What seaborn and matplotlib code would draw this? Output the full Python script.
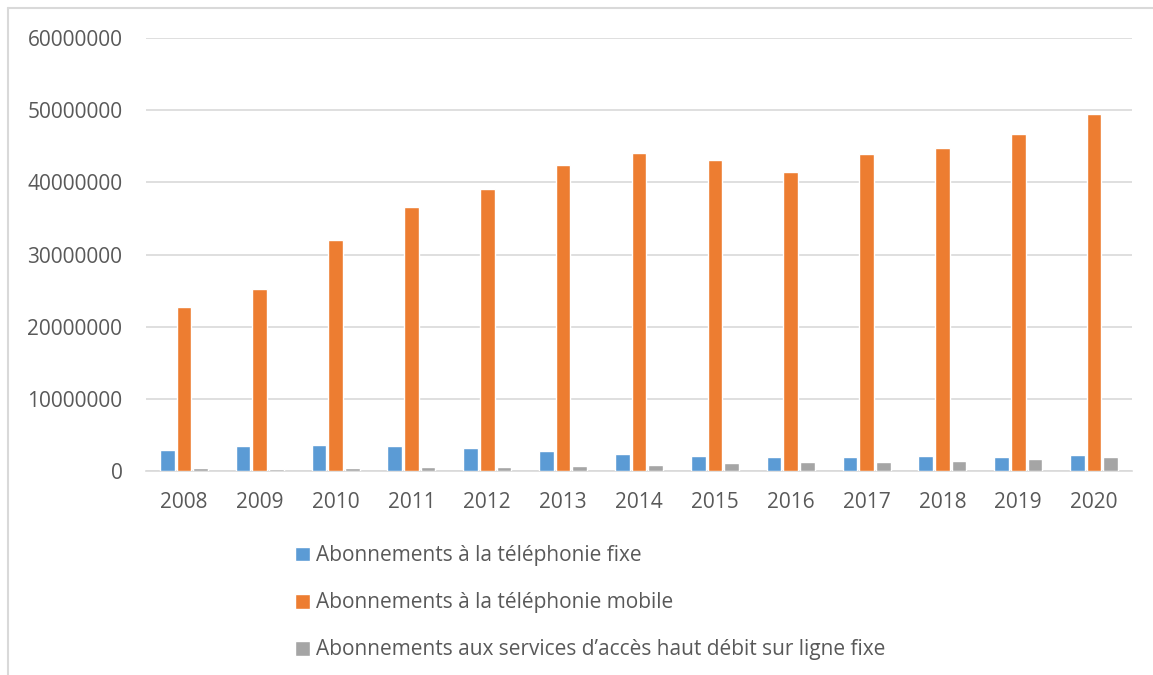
import matplotlib
matplotlib.use("Agg")
import matplotlib.pyplot as plt
from matplotlib.lines import Line2D
import pandas as pd
import seaborn as sns

years = [2008, 2009, 2010, 2011, 2012, 2013, 2014, 2015, 2016, 2017, 2018, 2019, 2020]
fixe = [2870000, 3420000, 3650000, 3460000, 3140000, 2770000, 2410000,
        2130000, 1940000, 1940000, 2090000, 1960000, 2280000]
mobile = [22700000, 25200000, 32000000, 36600000, 39100000, 42400000, 44000000,
          43100000, 41400000, 43900000, 44700000, 46700000, 49400000]
haut_debit = [370000, 330000, 370000, 510000, 610000, 750000, 890000,
              1070000, 1200000, 1300000, 1440000, 1660000, 1990000]

series_names = [
    "Abonnements à la téléphonie fixe",
    "Abonnements à la téléphonie mobile",
    "Abonnements aux services d\u2019accès haut débit sur ligne fixe",
]
colors = ["#5b9bd5", "#ed7d31", "#a5a5a5"]

df = pd.DataFrame({
    "year": [str(y) for y in years] * 3,
    "value": fixe + mobile + haut_debit,
    "series": [series_names[0]] * len(years) + [series_names[1]] * len(years)
              + [series_names[2]] * len(years),
})

sns.set_style("white")
plt.rcParams["font.family"] = ["Open Sans", "DejaVu Sans"]
text_col = "#595959"

fig = plt.figure(figsize=(11.53, 6.75), dpi=100)
ax = fig.add_axes([146 / 1153, 1 - 471 / 675, (1132 - 146) / 1153, (471 - 38) / 675])

sns.barplot(data=df, x="year", y="value", hue="series", palette=colors,
            width=0.66, gap=0.12, saturation=1, ax=ax, zorder=3)

ax.set_ylim(0, 60000000)
ax.set_xlim(-0.5, len(years) - 0.5)
ax.set_yticks(range(0, 60000001, 10000000))
ax.set_yticklabels([str(v) for v in range(0, 60000001, 10000000)])
ax.yaxis.grid(True, color="#d9d9d9", linewidth=1.2)
ax.set_axisbelow(True)
for s in ["top", "right", "left"]:
    ax.spines[s].set_visible(False)
ax.spines["bottom"].set_color("#d9d9d9")
ax.spines["bottom"].set_linewidth(1.2)
ax.spines["bottom"].set_zorder(0.6)
ax.tick_params(axis="both", length=0, labelsize=15, colors=text_col)
ax.tick_params(axis="x", pad=15)
ax.tick_params(axis="y", pad=17)
ax.set_xlabel("")
ax.set_ylabel("")

ax.legend(loc="upper left", bbox_to_anchor=(287 / 1153, 1 - 537 / 675),
          bbox_transform=fig.transFigure, frameon=False, fontsize=15,
          labelcolor=text_col, handlelength=0.72, handleheight=0.72,
          handletextpad=0.25, labelspacing=1.25, borderaxespad=0)

# outer frame (left and top only)
fig.add_artist(Line2D([8 / 1153, 8 / 1153], [0, 1 - 8 / 675], color="#d9d9d9",
                      linewidth=1.5, transform=fig.transFigure))
fig.add_artist(Line2D([8 / 1153, 1], [1 - 8 / 675, 1 - 8 / 675], color="#d9d9d9",
                      linewidth=1.5, transform=fig.transFigure))

fig.savefig("out.png", dpi=100)
